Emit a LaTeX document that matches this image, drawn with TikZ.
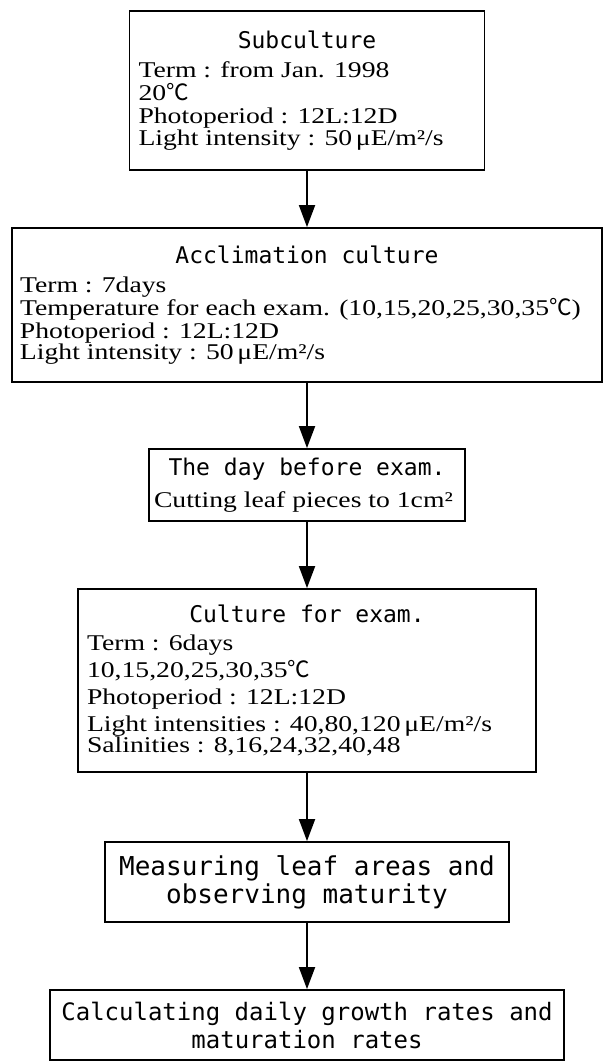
\documentclass[tikz,border=0pt]{standalone}
\usepackage{fontspec}
\setmainfont{Liberation Serif}[FakeStretch=1.23]
\newfontfamily\gothic{DejaVu Sans Mono}
\newfontfamily\cjk{Noto Sans CJK JP}
\usetikzlibrary{arrows.meta}

\newcommand{\degC}{{\cjk ℃}}
\newcommand{\boxtitle}[2][6pt]{{\centering\gothic\fontsize{23}{23}\selectfont\spaceskip=0pt\xspaceskip=0pt #2\par}\vspace{#1}}
\newcommand{\bodysize}[1][23]{\fontsize{22.5}{#1}\selectfont\spaceskip=0pt\xspaceskip=0pt}

\begin{document}
\begin{tikzpicture}[x=1pt, y=-1pt,
    box/.style={draw, line width=1.8pt, inner sep=0pt, align=left},
    flow/.style={-{Triangle[width=16pt,length=22pt]}, line width=1.8pt}]
    \useasboundingbox (0,0) rectangle (604,1063);

    \node[box, minimum width=355pt, minimum height=159pt, text width=337pt] (sub) at (307,90.5)
        {\boxtitle{Subculture}\bodysize Term : from Jan. 1998\\ 20\degC\\ Photoperiod : 12L:12D\\ Light intensity : 50\,μE/m²/s};
    \node[box, minimum width=590pt, minimum height=154pt, text width=574pt] (accl) at (307,305)
        {\boxtitle{Acclimation culture}\bodysize Term : 7days\\ Temperature for each exam. (10,15,20,25,30,35\degC)\\ Photoperiod : 12L:12D\\ Light intensity : 50\,μE/m²/s};
    \node[box, minimum width=316pt, minimum height=72pt, text width=306pt] (before) at (307,485)
        {\boxtitle[11pt]{The day before exam.}\bodysize Cutting leaf pieces to 1cm²};
    \node[box, minimum width=458pt, minimum height=183pt, text width=440pt] (exam) at (307,680.5)
        {\boxtitle[1pt]{Culture for exam.}\bodysize[27] Term : 6days\\ 10,15,20,25,30,35\degC\\ Photoperiod : 12L:12D\\ Light intensities : 40,80,120\,μE/m²/s\\ Salinities : 8,16,24,32,40,48};
    \node[box, align=center, minimum width=404pt, minimum height=80pt, font=\gothic\fontsize{26}{28}\selectfont] (measure) at (307,882)
        {Measuring leaf areas and\\ observing maturity};
    \node[box, align=center, minimum width=514pt, minimum height=70pt, font=\gothic\fontsize{24}{28}\selectfont] (calc) at (307,1025)
        {Calculating daily growth rates and\\ maturation rates};

    \draw[flow] (sub) -- (accl);
    \draw[flow] (accl) -- (before);
    \draw[flow] (before) -- (exam);
    \draw[flow] (exam) -- (measure);
    \draw[flow] (measure) -- (calc);
\end{tikzpicture}
\end{document}
